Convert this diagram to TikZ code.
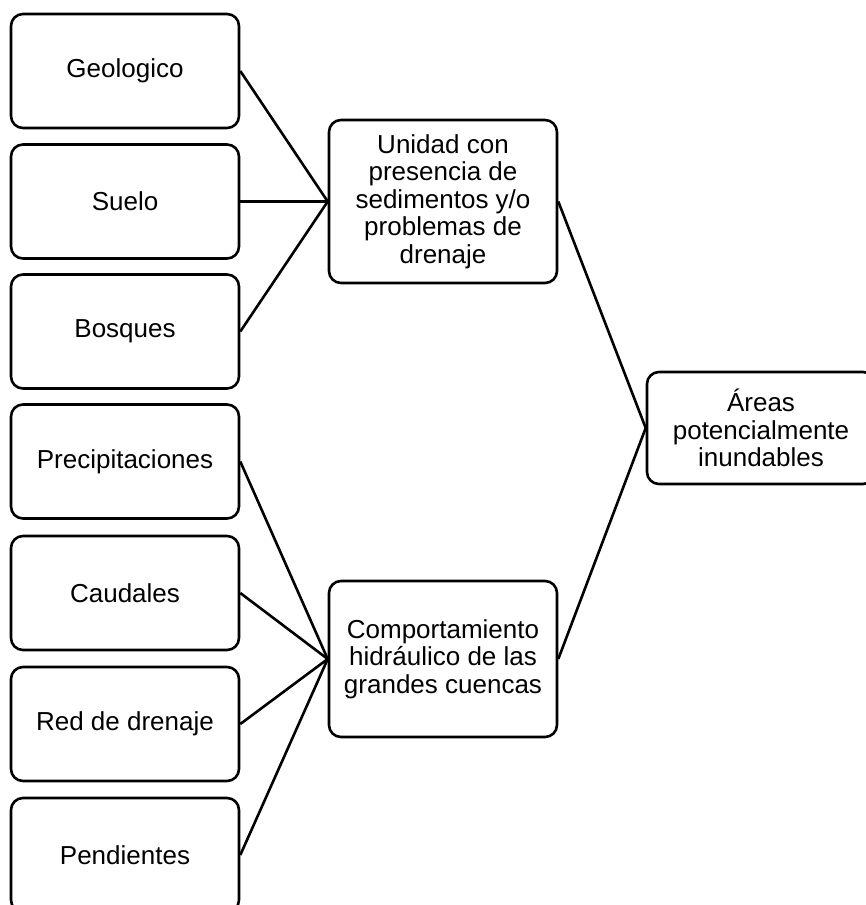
\documentclass[tikz,border=0pt]{standalone}
\usepackage{fontspec}
\setmainfont{Liberation Sans}
\usetikzlibrary{positioning}

\tikzset{
  factor/.style={draw, rounded corners=12pt, line width=2.6pt, align=center,
    inner sep=0pt, font=\fontsize{26}{27.5}\selectfont},
  link/.style={line width=2.6pt}
}

\begin{document}
\begin{tikzpicture}[x=1pt, y=-1pt]
    \useasboundingbox (0,0) rectangle (865,905);

    % Factores de entrada (columna izquierda)
    \node[factor, minimum width=228pt, minimum height=114pt] (geo)  at (125,71)  {Geologico};
    \node[factor, minimum width=228pt, minimum height=114pt] (suelo) at (125,201.5) {Suelo};
    \node[factor, minimum width=228pt, minimum height=114pt] (bosq) at (125,331.5) {Bosques};
    \node[factor, minimum width=228pt, minimum height=114pt] (prec) at (125,461.5) {Precipitaciones};
    \node[factor, minimum width=228pt, minimum height=114pt] (caud) at (125,593)  {Caudales};
    \node[factor, minimum width=228pt, minimum height=114pt] (red)  at (125,724)  {Red de drenaje};
    \node[factor, minimum width=228pt, minimum height=114pt] (pend) at (125,855)  {Pendientes};

    % Unidades intermedias
    \node[factor, minimum width=228pt, minimum height=163pt] (unidad) at (443,201.5)
      {Unidad con\\presencia de\\sedimentos y/o\\problemas de\\drenaje};
    \node[factor, minimum width=228pt, minimum height=156pt] (comp) at (443,659)
      {Comportamiento\\hidráulico de las\\grandes cuencas};

    % Resultado (cortado por el borde derecho)
    \node[factor, minimum width=228pt, minimum height=112pt] (areas) at (761,428)
      {Áreas\\potencialmente\\inundables};

    % Conexiones
    \draw[link] (geo.east) -- (unidad.west);
    \draw[link] (suelo.east) -- (unidad.west);
    \draw[link] (bosq.east) -- (unidad.west);
    \draw[link] (prec.east) -- (comp.west);
    \draw[link] (caud.east) -- (comp.west);
    \draw[link] (red.east) -- (comp.west);
    \draw[link] (pend.east) -- (comp.west);
    \draw[link] (unidad.east) -- (areas.west);
    \draw[link] (comp.east) -- (areas.west);
  \end{tikzpicture}
\end{document}
